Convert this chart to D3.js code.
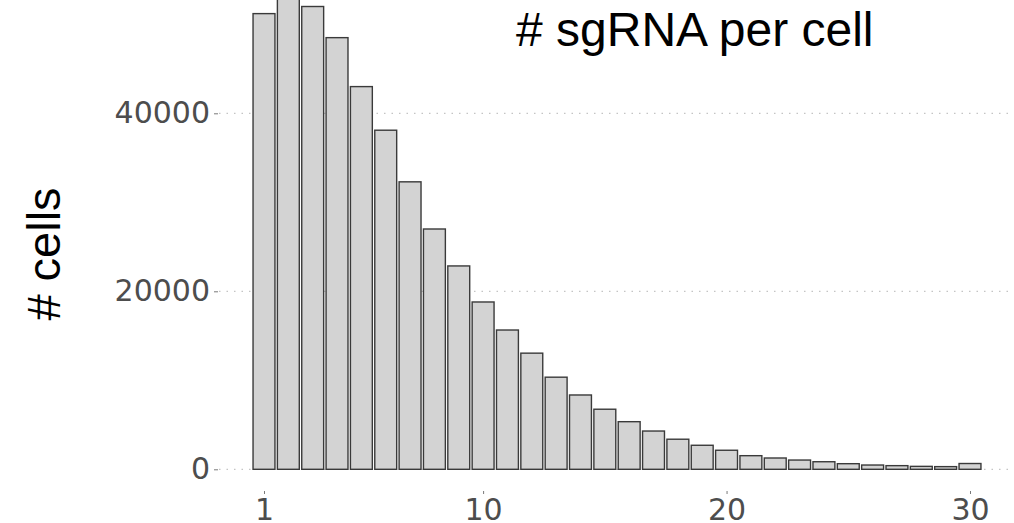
<!DOCTYPE html>
<html>
<head>
<meta charset="utf-8">
<script src="https://cdn.jsdelivr.net/npm/d3@7"></script>
<style>
  html, body { margin: 0; padding: 0; background: #fff; }
  svg { display: block; }
</style>
</head>
<body>
<svg id="chart" width="1014" height="523"></svg>
<script>
// Number of sgRNAs detected per cell, and how many cells have each count
const sgrnaCounts = d3.range(1, 31);
const cellCounts = [
  51200, 54000, 52000, 48500, 43000, 38100, 32300, 27000, 22850, 18800,
  15650, 13050, 10350, 8350, 6750, 5350, 4300, 3380, 2700, 2140,
  1530, 1270, 1040, 850, 630, 480, 410, 330, 300, 650
];
const xTicks = [1, 10, 20, 30];
const yTicks = [0, 20000, 40000];

const svg = d3.select("#chart");

const x = d3.scaleLinear().domain([1, 30]).range([264, 970]);
const y = d3.scaleLinear().domain([0, 40000]).range([469.3, 113.3]);
const step = x(2) - x(1);
const barW = step * 0.9;
const panelLeft = 219, panelRight = 1014;

// horizontal gridlines
svg.append("g")
  .selectAll("line")
  .data(yTicks)
  .join("line")
  .attr("x1", panelLeft).attr("x2", panelRight)
  .attr("y1", d => y(d)).attr("y2", d => y(d))
  .attr("stroke", "#c4c4c4")
  .attr("stroke-width", 1.2)
  .attr("stroke-dasharray", "1.5,6");

// bars
svg.append("g")
  .selectAll("rect")
  .data(sgrnaCounts)
  .join("rect")
  .attr("x", d => x(d) - barW / 2)
  .attr("width", barW)
  .attr("y", (d, i) => y(cellCounts[i]))
  .attr("height", (d, i) => y(0) - y(cellCounts[i]))
  .attr("fill", "#d3d3d3")
  .attr("stroke", "#3a3a3a")
  .attr("stroke-width", 1.4);

// y axis
const yAxis = d3.axisLeft(y).tickValues(yTicks).tickSize(4).tickPadding(4).tickFormat(d3.format("d"));
const gy = svg.append("g").attr("transform", `translate(${panelLeft - 1},0)`).call(yAxis);
gy.select(".domain").remove();
gy.selectAll(".tick line").attr("stroke", "#7a7a7a").attr("stroke-width", 1);
gy.selectAll(".tick text")
  .attr("fill", "#4d4d4d")
  .style("font-family", "'DejaVu Sans', sans-serif")
  .style("font-size", "30px");

// x axis
const xAxis = d3.axisBottom(x).tickValues(xTicks).tickSize(3).tickPadding(2).tickFormat(d3.format("d"));
const gx = svg.append("g").attr("transform", "translate(0,491)").call(xAxis);
gx.select(".domain").remove();
gx.selectAll(".tick line").attr("stroke", "#7a7a7a").attr("stroke-width", 1);
gx.selectAll(".tick text")
  .attr("fill", "#4d4d4d")
  .attr("dy", null)
  .attr("y", 29)
  .style("font-family", "'DejaVu Sans', sans-serif")
  .style("font-size", "30px");

// title inside the panel
svg.append("text")
  .attr("x", 516)
  .attr("y", 46)
  .attr("fill", "#000")
  .style("font-family", "'Liberation Sans', Arial, sans-serif")
  .style("font-size", "48px")
  .text("# sgRNA per cell");

// y axis title
svg.append("text")
  .attr("transform", "translate(60,254) rotate(-90)")
  .attr("text-anchor", "middle")
  .attr("fill", "#000")
  .style("font-family", "'Liberation Sans', Arial, sans-serif")
  .style("font-size", "47px")
  .text("# cells");
</script>
</body>
</html>
